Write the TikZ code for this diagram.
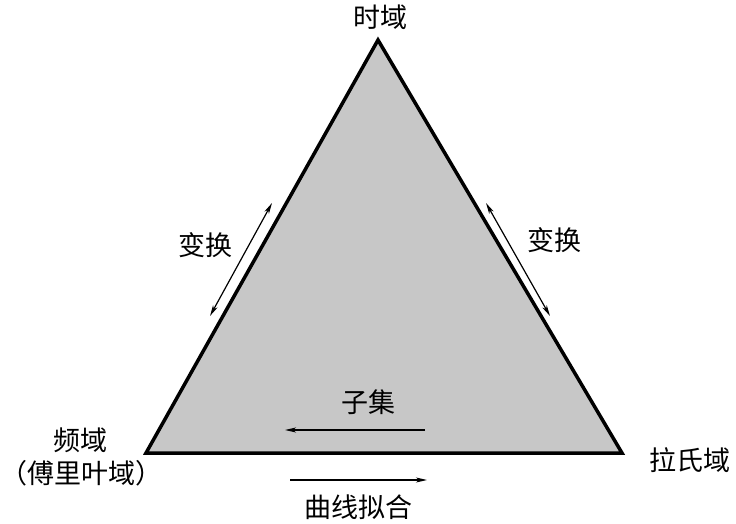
\documentclass[tikz,border=0pt]{standalone}
\usepackage{fontspec}
\setmainfont{Noto Sans CJK SC}
\usetikzlibrary{arrows.meta}

\begin{document}
\begin{tikzpicture}[
  x=1pt, y=1pt,
  label/.style={inner sep=0pt, font=\fontsize{27}{31}\selectfont},
  side/.style={draw, line width=3.5pt, line join=miter, fill=black!22},
  link/.style={draw, line width=1.2pt, >={Stealth[length=11pt, width=5pt, inset=3pt]}}
]
  \useasboundingbox (0,0) rectangle (736,523);
  % triangle corners
  \coordinate (time) at (378,483);
  \coordinate (freq) at (146,70);
  \coordinate (lap) at (622,70);
  \path[side] (time) -- (freq) -- (lap) -- cycle;

  % arrows along the sides
  \coordinate (la) at (272,320);
  \coordinate (lb) at (210,207);
  \coordinate (ra) at (486,320);
  \coordinate (rb) at (550,207);
  \coordinate (sa) at (425,93);
  \coordinate (sb) at (285,93);
  \coordinate (ca) at (290,43);
  \coordinate (cb) at (427,43);
  \draw[link, <->] (la) -- (lb);
  \draw[link, <->] (ra) -- (rb);
  \draw[link, ->] (sa) -- (sb);
  \draw[link, ->] (ca) -- (cb);

  % labels
  \node[label] (timelbl) at (380,506) {时域};
  \node[label] (lefttf) at (205,278) {变换};
  \node[label] (righttf) at (554,283) {变换};
  \node[label] (subset) at (368,121) {子集};
  \node[label] (fit) at (358,16) {曲线拟合};
  \node[label] (freqlbl) at (80,83) {频域};
  \node[label] (fourier) at (81.5,50) {（傅里叶域）};
  \node[label] (laplbl) at (690,63) {拉氏域};
\end{tikzpicture}
\end{document}
